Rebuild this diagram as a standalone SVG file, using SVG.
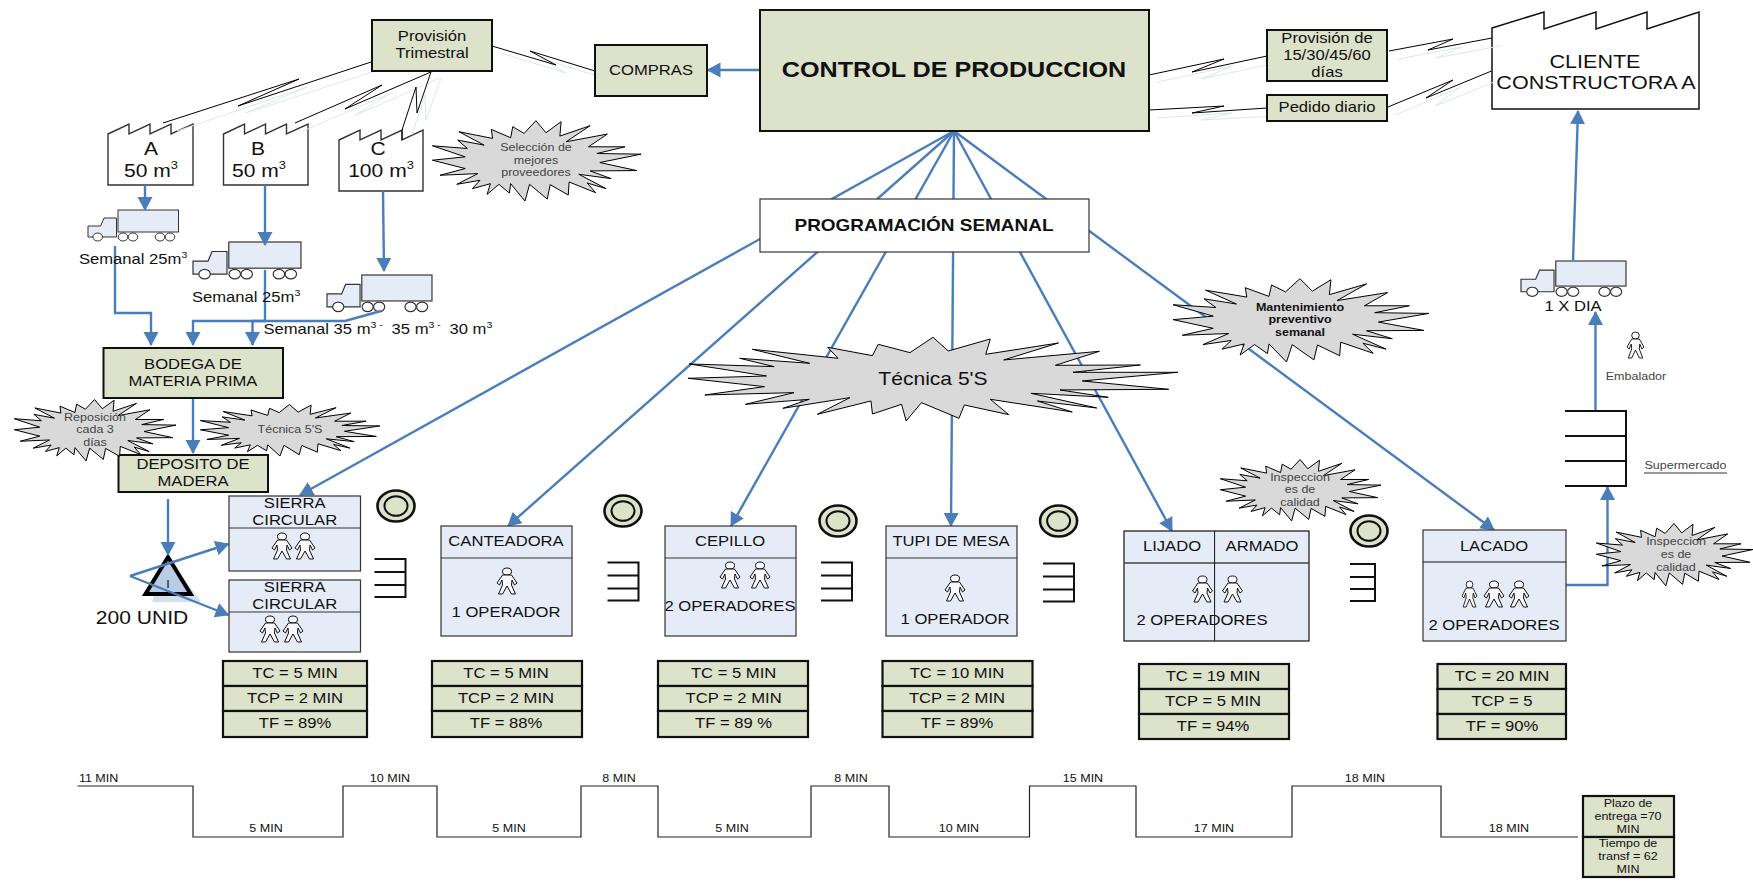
<svg xmlns="http://www.w3.org/2000/svg" width="1753" height="883" viewBox="0 0 1753 883">
<style>
text{font-family:"Liberation Sans",Arial,sans-serif;fill:#111;text-anchor:middle}
.s11{font-size:10.7px}.s14{font-size:14.2px}.s18{font-size:18px}
.g{fill:#444}.b{font-weight:bold}.l{text-anchor:start}
.gr{fill:#dde2cb;stroke:#111;stroke-width:2}
.bl{fill:#e6ecf7;stroke:#333;stroke-width:1.2}
.wh{fill:#fff;stroke:#333;stroke-width:1.4}
.k{fill:none;stroke:#111;stroke-width:2}
.zz{fill:none;stroke:#000;stroke-width:1}
.zs{fill:none;stroke:#dce6f2;stroke-width:1}
.arm{fill:none;stroke:#4a7ebb;stroke-width:2.4;marker-end:url(#ah)}
.st{fill:#d9d9d9;stroke:#000;stroke-width:1;vector-effect:non-scaling-stroke}
.t1{fill:#dde2cb;stroke:#111;stroke-width:2.2}
</style>
<defs>
<marker id="ah" markerUnits="userSpaceOnUse" markerWidth="15" markerHeight="16" refX="13" refY="7.5" orient="auto"><polygon points="0,0 14,7.5 0,15" fill="#4a7ebb"/></marker>
<polygon id="star" class="st" transform="translate(-1026,-360)" points="1273,362 1297,398 1333,365 1330,408 1402,377 1345,425 1443,402 1398,440 1485,440 1418,460 1523,462 1425,487 1513,511 1402,512 1452,535 1375,522 1440,565 1395,548 1415,577 1352,545 1350,584 1307,553 1300,596 1258,552 1247,602 1213,550 1210,578 1185,552 1157,582 1165,550 1122,565 1140,540 1085,552 1135,520 1045,525 1105,505 1027,480 1105,470 1027,437 1110,445 1087,420 1150,435 1090,395 1170,415 1167,388 1213,413 1218,380 1245,400"/>
<g id="truck" stroke="#333" stroke-width="1" fill="#e6ecf7">
<path d="M0,27V16H12.6L16,8H28.5V27Z"/><rect x="30" y="0" width="60.5" height="22"/>
<g fill="#fff"><ellipse cx="9.7" cy="27" rx="4.8" ry="4"/><ellipse cx="35" cy="27" rx="4.8" ry="4"/><ellipse cx="45" cy="27" rx="4.8" ry="4"/><ellipse cx="72" cy="27" rx="4.8" ry="4"/><ellipse cx="82" cy="27" rx="4.8" ry="4"/></g>
</g>
<g id="person" fill="#f7f9fc" stroke="#111" stroke-width="1"><ellipse cx="10" cy="3.500" rx="4.500" ry="3.500"/><path d="M5.500,7H14.500L20,15L17.500,17L15,12L14.500,17L18.500,26H14.500L10,18L5.500,26H1.500L5.500,17L5,12L2.500,17L0,15Z"/></g>
<path id="sm" class="k" d="M0,0H31V38H0M0,13H31M0,26H31"/>
<g id="kanban"><ellipse rx="18.500" ry="15.500" fill="#dde2cb" stroke="#111" stroke-width="2.600"/><ellipse rx="11.500" ry="9.800" fill="#dde2cb" stroke="#111" stroke-width="2"/></g>
</defs>
<rect width="1753" height="883" fill="#fff"/>

<g id="factory-a"><path class="wh" d="M108,134L129,124V134L150,124V134L171,124V134L193,124V185H108Z"/></g>
<g id="factory-b"><path class="wh" d="M223.500,134L244.500,124V134L265.500,124V134L286.500,124V134L308,124V185H223.500Z"/></g>
<g id="factory-c"><path class="wh" d="M339,140L360,130V140L381,130V140L402,130V140L423,130V191H339Z"/></g>
<g id="cliente"><path d="M1492,28L1544,12V29L1596,12V29L1647,12V29L1699,12V109H1492Z" fill="#fff" stroke="#111" stroke-width="1.500"/></g>
<g id="truck-a"><use href="#truck" transform="translate(88,210)"/></g>
<g id="truck-b"><use href="#truck" transform="translate(193,242) scale(1.193,1.19)"/></g>
<g id="truck-c"><use href="#truck" transform="translate(327,275) scale(1.16,1.18)"/></g>
<g id="truck-d"><use href="#truck" transform="translate(1521,261) scale(1.16,1.14)"/></g>
<g id="inventario"><polygon points="168,557 201,602 152,602" fill="#d3deef"/><polygon points="168,557 190.600,594 145.500,594" fill="#b8cce4" stroke="#000" stroke-width="4"/><text class="s11" transform="matrix(1.17 0 0 1 168 588)">I</text></g>

<g id="connectors">
<polyline class="zs" points="372,72 246,113 307,87 177,131"/><polyline class="zz" points="371,62 238,106 299,79 163,123"/>
<polyline class="zs" points="440,78 354,116 391,93 303,131"/><polyline class="zz" points="431,72 345,109 382,85 295,123"/>
<polyline class="zs" points="441,78 426,120 425,95 412,135"/><polyline class="zz" points="431,72 417,113 416,87 402,130 402,140"/>
<polyline class="zs" points="501,53 566,73 540,58 604,78"/><polyline class="zz" points="492,46 556,65 530,51 595,71"/>
<polyline class="zs" points="1157,82 1232.500,66 1201,79 1276,63"/><polyline class="zz" points="1149,75 1224,59 1192,72 1267,56"/>
<polyline class="zs" points="1157,118 1232,113 1201,120 1276,116"/><polyline class="zz" points="1149,110 1224,106 1192,113 1267,108"/>
<polyline class="zs" points="1398,59 1462,47 1436,58 1500,46"/><polyline class="zz" points="1389,51 1453,39 1428,50 1492,38"/>
<polyline class="zs" points="1395,115 1460.500,87 1435,106 1494,82"/><polyline class="zz" points="1388,107 1453,80 1426,98 1491.500,71"/>
<line class="arm" x1="760" y1="70" x2="707.500" y2="70"/>
<line class="arm" x1="145" y1="185" x2="145" y2="210"/>
<line class="arm" x1="265" y1="185" x2="265" y2="245"/>
<line class="arm" x1="383" y1="191" x2="384" y2="271"/>
<polyline class="arm" points="115,246 115,313 151,313 151,345"/>
<polyline class="arm" points="265,270 265,321 252.500,321 252.500,345"/>
<polyline class="arm" points="381,311 345,321 193,321 193,345"/>
<line class="arm" x1="193" y1="398" x2="193" y2="453"/>
<line class="arm" x1="168" y1="499" x2="168" y2="555"/>
<polyline class="arm" points="130,576 228.500,544"/>
<polyline class="arm" points="130,576 228.500,615"/>
<line class="arm" x1="954" y1="131" x2="300" y2="495"/>
<line class="arm" x1="954" y1="131" x2="508" y2="526"/>
<line class="arm" x1="954" y1="131" x2="731" y2="526"/>
<line class="arm" x1="954" y1="131" x2="951" y2="526"/>
<line class="arm" x1="954" y1="131" x2="1172" y2="531"/>
<line class="arm" x1="954" y1="131" x2="1494" y2="530"/>
<polyline class="arm" points="1566,585 1607.500,585 1607.500,487"/>
<line class="arm" x1="1595.500" y1="411" x2="1595.500" y2="312"/>
<line class="arm" x1="1573" y1="261" x2="1578" y2="111"/>
</g>

<g id="provision-trimestral"><rect class="gr" x="372" y="20" width="120" height="51"/><text class="s14" transform="matrix(1.17 0 0 1 432 41)">Provisión</text><text class="s14" transform="matrix(1.17 0 0 1 432 58)">Trimestral</text></g>
<g id="compras"><rect class="gr" x="595" y="45" width="112" height="51"/><text class="s14" transform="matrix(1.17 0 0 1 651 75)">COMPRAS</text></g>
<g id="control"><rect class="gr" x="760" y="10" width="389" height="121"/><text class="b" font-size="21.500" transform="matrix(1.17 0 0 1 954 77)">CONTROL DE PRODUCCION</text></g>
<g id="provision-dias"><rect class="gr" x="1267" y="30" width="120" height="51"/><text class="s14" transform="matrix(1.17 0 0 1 1327 43)">Provisión de</text><text class="s14" transform="matrix(1.17 0 0 1 1327 60)">15/30/45/60</text><text class="s14" transform="matrix(1.17 0 0 1 1327 77)">días</text></g>
<g id="pedido"><rect class="gr" x="1267" y="95" width="120" height="26"/><text class="s14" transform="matrix(1.17 0 0 1 1327 112)">Pedido diario</text></g>
<g id="cliente-label"><text font-size="18.400" transform="matrix(1.17 0 0 1 1595 68)">CLIENTE</text><text font-size="18.400" transform="matrix(1.17 0 0 1 1596 89)">CONSTRUCTORA A</text></g>
<g id="labels-factories">
<text class="s18" transform="matrix(1.17 0 0 1 151 155)">A</text><text class="s18" transform="matrix(1.17 0 0 1 151 177)">50 m<tspan font-size="11" dy="-8">3</tspan></text>
<text class="s18" transform="matrix(1.17 0 0 1 258 155)">B</text><text class="s18" transform="matrix(1.17 0 0 1 259 177)">50 m<tspan font-size="11" dy="-8">3</tspan></text>
<text class="s18" transform="matrix(1.17 0 0 1 378 155)">C</text><text class="s18" transform="matrix(1.17 0 0 1 381 177)">100 m<tspan font-size="11" dy="-8">3</tspan></text>
<text class="s14 l" transform="matrix(1.17 0 0 1 79 264)">Semanal 25m<tspan font-size="9" dy="-6">3</tspan></text>
<text class="s14 l" transform="matrix(1.17 0 0 1 192 302)">Semanal 25m<tspan font-size="9" dy="-6">3</tspan></text>
<text class="s14 l" transform="matrix(1.17 0 0 1 263.500 334)">Semanal 35 m<tspan font-size="9" dy="-6">3 - &#160;&#160;</tspan><tspan dy="6">35 m</tspan><tspan font-size="9" dy="-6">3 - &#160;&#160;</tspan><tspan dy="6">30 m</tspan><tspan font-size="9" dy="-6">3</tspan></text>
<text class="s14" transform="matrix(1.17 0 0 1 1573 311)">1 X DIA</text>
</g>
<g id="programacion"><rect x="760" y="199" width="329" height="53" fill="#fff" stroke="#333" stroke-width="1.200"/><text class="b" font-size="16.200" transform="matrix(1.17 0 0 1 924 231)">PROGRAMACIÓN SEMANAL</text></g>
<g id="bodega"><rect class="gr" x="103.500" y="348" width="179.500" height="50"/><text class="s14" transform="matrix(1.17 0 0 1 193 369)">BODEGA DE</text><text class="s14" transform="matrix(1.17 0 0 1 193 386)">MATERIA PRIMA</text></g>
<g id="deposito"><rect class="gr" x="118.500" y="455" width="149.500" height="37"/><text class="s14" transform="matrix(1.17 0 0 1 193 469)">DEPOSITO DE</text><text class="s14" transform="matrix(1.17 0 0 1 193 486)">MADERA</text></g>
<g id="inv-label"><text class="s18" transform="matrix(1.17 0 0 1 142 624)">200 UNID</text></g>

<g id="star-seleccion"><use href="#star" transform="translate(432,120) scale(.4206,.335)"/><text class="s11 g" transform="matrix(1.17 0 0 1 536 151)">Selección de</text><text class="s11 g" transform="matrix(1.17 0 0 1 536 164)">mejores</text><text class="s11 g" transform="matrix(1.17 0 0 1 536 176)">proveedores</text></g>
<g id="star-reposicion"><use href="#star" transform="translate(14,399) scale(.326,.256)"/><text class="s11 g" transform="matrix(1.17 0 0 1 95 421)">Reposición</text><text class="s11 g" transform="matrix(1.17 0 0 1 95 433)">cada 3</text><text class="s11 g" transform="matrix(1.17 0 0 1 95 446)">días</text></g>
<g id="star-tecnica-small"><use href="#star" transform="translate(200,404) scale(.362,.215)"/><text class="s11 g" transform="matrix(1.17 0 0 1 290 433)">Técnica 5'S</text></g>
<g id="star-tecnica-big"><polygon class="st" transform="translate(600,120) scale(.3827,.3333)" points="870,652 910,693 1020,657 1008,703 1198,669 1055,720 1305,694 1190,736 1412,735 1236,757 1510,757 1260,783 1486,808 1202,810 1328,832 1126,820 1298,864 1143,843 1234,876 1020,838 1068,884 952,855 938,895 840,848 800,903 788,853 712,882 708,843 568,883 653,833 478,865 547,838 380,853 507,818 274,825 430,800 230,775 435,768 233,732 455,740 365,715 548,730 398,688 622,715 595,682 712,707 727,673 810,698"/><text class="s18" transform="matrix(1.17 0 0 1 933 385)">Técnica 5'S</text></g>
<g id="star-mantenimiento"><use href="#star" transform="translate(1172.500,278) scale(.516,.347)"/><text class="s11 b" transform="matrix(1.17 0 0 1 1300 311)">Mantenimiento</text><text class="s11 b" transform="matrix(1.17 0 0 1 1300 323)">preventivo</text><text class="s11 b" transform="matrix(1.17 0 0 1 1300 336)">semanal</text></g>
<g id="star-inspeccion-1"><use href="#star" transform="translate(1220,459) scale(.324,.256)"/><text class="s11 g" transform="matrix(1.17 0 0 1 1300 481)">Inspeccion</text><text class="s11 g" transform="matrix(1.17 0 0 1 1300 493)">es de</text><text class="s11 g" transform="matrix(1.17 0 0 1 1300 506)">calidad</text></g>
<g id="star-inspeccion-2"><use href="#star" transform="translate(1596,523) scale(.316,.26)"/><text class="s11 g" transform="matrix(1.17 0 0 1 1676 545)">Inspeccion</text><text class="s11 g" transform="matrix(1.17 0 0 1 1676 558)">es de</text><text class="s11 g" transform="matrix(1.17 0 0 1 1676 571)">calidad</text></g>

<g id="sierra-1"><rect class="bl" x="229" y="496" width="131.500" height="75"/><line x1="229" x2="360.500" y1="528" y2="528" stroke="#333" stroke-width="1.200"/><text class="s14" transform="matrix(1.17 0 0 1 294.700 508)">SIERRA</text><text class="s14" transform="matrix(1.17 0 0 1 294.700 525)">CIRCULAR</text><use href="#person" x="272" y="533"/><use href="#person" x="295" y="533"/></g>
<g id="sierra-2"><rect class="bl" x="229" y="580" width="131.500" height="72"/><line x1="229" x2="360.500" y1="612" y2="612" stroke="#333" stroke-width="1.200"/><text class="s14" transform="matrix(1.17 0 0 1 294.700 592)">SIERRA</text><text class="s14" transform="matrix(1.17 0 0 1 294.700 609)">CIRCULAR</text><use href="#person" x="260" y="616"/><use href="#person" x="283" y="616"/></g>
<g id="canteadora"><rect class="bl" x="441" y="526" width="131" height="110"/><line x1="441" x2="572" y1="558" y2="558" stroke="#333" stroke-width="1.200"/><text class="s14" transform="matrix(1.17 0 0 1 506 546)">CANTEADORA</text><use href="#person" x="497" y="568"/><text class="s14" transform="matrix(1.17 0 0 1 506 617)">1 OPERADOR</text></g>
<g id="cepillo"><rect class="bl" x="665" y="526" width="131" height="110"/><line x1="665" x2="796" y1="558" y2="558" stroke="#333" stroke-width="1.200"/><text class="s14" transform="matrix(1.17 0 0 1 730 546)">CEPILLO</text><use href="#person" x="720" y="562"/><use href="#person" x="750" y="562"/><text class="s14" transform="matrix(1.17 0 0 1 730 611)">2 OPERADORES</text></g>
<g id="tupi"><rect class="bl" x="886" y="526" width="131" height="110"/><line x1="886" x2="1017" y1="558" y2="558" stroke="#333" stroke-width="1.200"/><text class="s14" transform="matrix(1.17 0 0 1 951 546)">TUPI DE MESA</text><use href="#person" x="945" y="575"/><text class="s14" transform="matrix(1.17 0 0 1 955 624)">1 OPERADOR</text></g>
<g id="lijado"><rect x="1124" y="531" width="185" height="110" fill="#e6ecf7" stroke="#111" stroke-width="1.200"/><line x1="1124" x2="1309" y1="563" y2="563" stroke="#444" stroke-width="1.600"/><line x1="1214.600" x2="1214.600" y1="531" y2="641" stroke="#111"/><text class="s14" transform="matrix(1.17 0 0 1 1172 551)">LIJADO</text><text class="s14" transform="matrix(1.17 0 0 1 1262 551)">ARMADO</text><use href="#person" x="1192.500" y="576"/><use href="#person" x="1222.500" y="576"/><text class="s14" transform="matrix(1.17 0 0 1 1202 625)">2 OPERADORES</text></g>
<g id="lacado"><rect class="bl" x="1423" y="530" width="143" height="111"/><line x1="1423" x2="1566" y1="562" y2="562" stroke="#111" stroke-width="1"/><text class="s14" transform="matrix(1.17 0 0 1 1494 551)">LACADO</text><use href="#person" transform="translate(1462,581) scale(.75,1)"/><use href="#person" x="1484" y="581"/><use href="#person" x="1509" y="581"/><text class="s14" transform="matrix(1.17 0 0 1 1494 630)">2 OPERADORES</text></g>

<g id="kanbans"><use href="#kanban" x="396" y="506"/><use href="#kanban" x="623" y="511"/><use href="#kanban" x="838" y="521"/><use href="#kanban" x="1058.600" y="521"/><use href="#kanban" x="1369" y="531"/></g>
<g id="supermarkets">
<use href="#sm" x="374.500" y="559"/><use href="#sm" x="607.500" y="562.500"/><use href="#sm" x="821" y="562.500"/><use href="#sm" x="1043" y="563.500"/>
<path class="k" d="M1350,564H1375V601H1350M1350,577H1375M1350,589H1375"/>
<path class="k" d="M1565,411H1626V486H1565M1565,436H1626M1565,461H1626"/>
</g>
<g id="embalador"><use href="#person" transform="translate(1627,332) scale(.85,1)"/><text class="s11 g" transform="matrix(1.17 0 0 1 1636 380)">Embalador</text></g>
<g id="supermercado"><text class="s11 g" transform="matrix(1.17 0 0 1 1685.500 469)">Supermercado</text><line x1="1644" x2="1727" y1="473" y2="473" stroke="#333"/></g>

<g id="metrics-1"><rect class="t1" x="223" y="661" width="144" height="25"/><rect class="t1" x="223" y="686" width="144" height="25"/><rect class="t1" x="223" y="711" width="144" height="26"/><text class="s14" transform="matrix(1.17 0 0 1 295 678)">TC = 5 MIN</text><text class="s14" transform="matrix(1.17 0 0 1 295 703)">TCP = 2 MIN</text><text class="s14" transform="matrix(1.17 0 0 1 295 728)">TF = 89%</text></g>
<g id="metrics-2"><rect class="t1" x="432" y="661" width="150" height="25"/><rect class="t1" x="432" y="686" width="150" height="25"/><rect class="t1" x="432" y="711" width="150" height="26"/><text class="s14" transform="matrix(1.17 0 0 1 506 678)">TC = 5 MIN</text><text class="s14" transform="matrix(1.17 0 0 1 506 703)">TCP = 2 MIN</text><text class="s14" transform="matrix(1.17 0 0 1 506 728)">TF = 88%</text></g>
<g id="metrics-3"><rect class="t1" x="658" y="661" width="150" height="25"/><rect class="t1" x="658" y="686" width="150" height="25"/><rect class="t1" x="658" y="711" width="150" height="26"/><text class="s14" transform="matrix(1.17 0 0 1 733.600 678)">TC = 5 MIN</text><text class="s14" transform="matrix(1.17 0 0 1 733.600 703)">TCP = 2 MIN</text><text class="s14" transform="matrix(1.17 0 0 1 733.600 728)">TF = 89 %</text></g>
<g id="metrics-4"><rect class="t1" x="882.500" y="661" width="150" height="25"/><rect class="t1" x="882.500" y="686" width="150" height="25"/><rect class="t1" x="882.500" y="711" width="150" height="26"/><text class="s14" transform="matrix(1.17 0 0 1 957 678)">TC = 10 MIN</text><text class="s14" transform="matrix(1.17 0 0 1 957 703)">TCP = 2 MIN</text><text class="s14" transform="matrix(1.17 0 0 1 957 728)">TF = 89%</text></g>
<g id="metrics-5"><rect class="t1" x="1139" y="664" width="150" height="25"/><rect class="t1" x="1139" y="689" width="150" height="25"/><rect class="t1" x="1139" y="714" width="150" height="25"/><text class="s14" transform="matrix(1.17 0 0 1 1213 681)">TC = 19 MIN</text><text class="s14" transform="matrix(1.17 0 0 1 1213 706)">TCP = 5 MIN</text><text class="s14" transform="matrix(1.17 0 0 1 1213 731)">TF = 94%</text></g>
<g id="metrics-6"><rect class="t1" x="1437.500" y="664" width="128.500" height="25"/><rect class="t1" x="1437.500" y="689" width="128.500" height="25"/><rect class="t1" x="1437.500" y="714" width="128.500" height="25"/><text class="s14" transform="matrix(1.17 0 0 1 1502 681)">TC = 20 MIN</text><text class="s14" transform="matrix(1.17 0 0 1 1502 706)">TCP = 5</text><text class="s14" transform="matrix(1.17 0 0 1 1502 731)">TF = 90%</text></g>

<g id="timeline"><polyline fill="none" stroke="#222" stroke-width="1.200" points="77.500,786 193,786 193,837 343,837 343,786 437,786 437,837 581,837 581,786 658,786 658,837 811,837 811,786 889,786 889,837 1029.500,837 1029.500,786 1136,786 1136,837 1292,837 1292,786 1441,786 1441,837 1578,837"/>
<text class="s11" transform="matrix(1.17 0 0 1 98.600 782)">11 MIN</text><text class="s11" transform="matrix(1.17 0 0 1 266 832)">5 MIN</text><text class="s11" transform="matrix(1.17 0 0 1 390 782)">10 MIN</text><text class="s11" transform="matrix(1.17 0 0 1 509 832)">5 MIN</text><text class="s11" transform="matrix(1.17 0 0 1 619 782)">8 MIN</text><text class="s11" transform="matrix(1.17 0 0 1 732 832)">5 MIN</text><text class="s11" transform="matrix(1.17 0 0 1 851 782)">8 MIN</text><text class="s11" transform="matrix(1.17 0 0 1 959 832)">10 MIN</text><text class="s11" transform="matrix(1.17 0 0 1 1083 782)">15 MIN</text><text class="s11" transform="matrix(1.17 0 0 1 1214 832)">17 MIN</text><text class="s11" transform="matrix(1.17 0 0 1 1365 782)">18 MIN</text><text class="s11" transform="matrix(1.17 0 0 1 1509 832)">18 MIN</text></g>
<g id="resumen"><rect class="t1" x="1583" y="796" width="91" height="41"/><rect class="t1" x="1583" y="837" width="91" height="40"/><text class="s11" transform="matrix(1.17 0 0 1 1628 807)">Plazo de</text><text class="s11" transform="matrix(1.17 0 0 1 1628 820)">entrega =70</text><text class="s11" transform="matrix(1.17 0 0 1 1628 833)">MIN</text><text class="s11" transform="matrix(1.17 0 0 1 1628 847)">Tiempo de</text><text class="s11" transform="matrix(1.17 0 0 1 1628 860)">transf = 62</text><text class="s11" transform="matrix(1.17 0 0 1 1628 873)">MIN</text></g>
</svg>
